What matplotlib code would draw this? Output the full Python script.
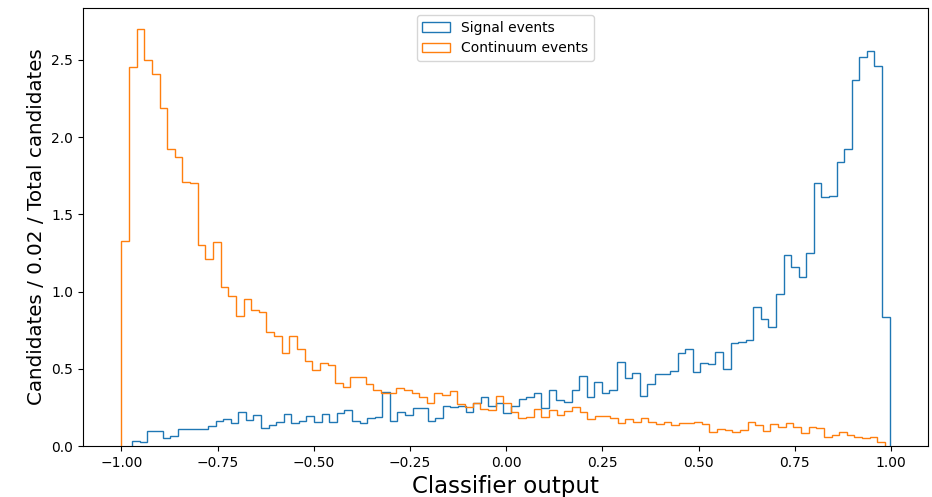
#!/usr/bin/env python3

"""Plot the classifier output distribution for signal and continuum
events, each normalised to the total number of candidates.

Creates out.png
"""

import numpy as np
import matplotlib
matplotlib.use('Agg')
import matplotlib.pyplot as plt

# bin ranges of the two samples (100 bins each)
signal_range = (-0.9715, 0.996)
continuum_range = (-1.0, 0.984)
n_bins = 100

# normalised candidate counts per bin, ordered from low to high output
signal_values = [
    0.035, 0.026, 0.097, 0.097, 0.052, 0.067, 0.11, 0.11, 0.11, 0.11,
    0.127, 0.164, 0.177, 0.147, 0.218, 0.168, 0.20, 0.114, 0.136, 0.158,
    0.21, 0.147, 0.164, 0.196, 0.158, 0.21, 0.158, 0.216, 0.233, 0.164,
    0.151, 0.179, 0.186, 0.348, 0.162, 0.218, 0.20, 0.244, 0.244, 0.162,
    0.179, 0.259, 0.255, 0.261, 0.222, 0.276, 0.32, 0.261, 0.276, 0.216,
    0.259, 0.304, 0.32, 0.345, 0.248, 0.363, 0.298, 0.283, 0.363, 0.455,
    0.315, 0.412, 0.345, 0.363, 0.542, 0.438, 0.47, 0.324, 0.40, 0.466,
    0.466, 0.488, 0.604, 0.626, 0.479, 0.54, 0.531, 0.611, 0.497, 0.665,
    0.674, 0.687, 0.902, 0.82, 0.773, 0.982, 1.237, 1.16, 1.097, 1.252,
    1.70, 1.61, 1.62, 1.837, 1.92, 2.37, 2.52, 2.558, 2.46, 0.838,
]

continuum_values = [
    1.33, 2.45, 2.70, 2.50, 2.41, 2.19, 1.92, 1.87, 1.71, 1.70,
    1.30, 1.21, 1.32, 1.03, 0.97, 0.84, 0.95, 0.88, 0.87, 0.74,
    0.71, 0.60, 0.71, 0.63, 0.55, 0.49, 0.535, 0.527, 0.41, 0.384,
    0.445, 0.445, 0.40, 0.363, 0.341, 0.341, 0.373, 0.363, 0.345, 0.32,
    0.28, 0.341, 0.33, 0.358, 0.27, 0.255, 0.28, 0.237, 0.233, 0.326,
    0.276, 0.222, 0.179, 0.19, 0.237, 0.186, 0.233, 0.20, 0.229, 0.25,
    0.222, 0.175, 0.194, 0.194, 0.179, 0.147, 0.173, 0.158, 0.184, 0.153,
    0.14, 0.153, 0.134, 0.147, 0.147, 0.153, 0.142, 0.093, 0.11, 0.104,
    0.093, 0.104, 0.158, 0.136, 0.099, 0.14, 0.121, 0.151, 0.125, 0.086,
    0.125, 0.119, 0.06, 0.071, 0.088, 0.071, 0.06, 0.05, 0.056, 0.028,
]


def plot_step(ax, values, value_range, label):
    edges = np.linspace(value_range[0], value_range[1], n_bins + 1)
    centers = 0.5 * (edges[:-1] + edges[1:])
    ax.hist(centers, bins=edges, weights=values, histtype='step', label=label)


def main():
    fig = plt.figure(figsize=(9.32, 4.97), dpi=100)
    ax = fig.add_axes([0.089, 0.1026, 0.9067, 0.8813])

    plot_step(ax, signal_values, signal_range, "Signal events")
    plot_step(ax, continuum_values, continuum_range, "Continuum events")

    ax.set_xlabel("Classifier output", fontsize=16.5)
    ax.set_ylabel("Candidates / 0.02 / Total candidates", fontsize=14.3)
    ax.legend(loc='upper center')

    fig.savefig('out.png', dpi=100)
    plt.close(fig)


if __name__ == "__main__":
    main()
